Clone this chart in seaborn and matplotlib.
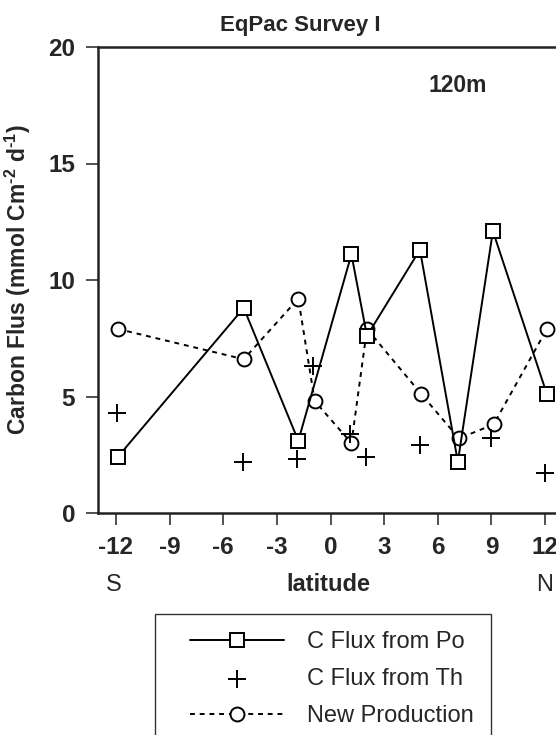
import numpy as np
import pandas as pd
import matplotlib
matplotlib.use("Agg")
import matplotlib.pyplot as plt
import seaborn as sns
from matplotlib.patches import Rectangle
from matplotlib.transforms import blended_transform_factory

# Du lieu doc tu hinh (vi do, thong luong carbon)
lat_po = [-11.9, -4.85, -1.8, 1.17, 2.04, 5.0, 7.12, 9.08, 12.1]
flux_po = [2.4, 8.8, 3.1, 11.1, 7.6, 11.3, 2.2, 12.1, 5.1]

lat_th = [-11.93, -4.92, -1.9, -0.98, 1.07, 2.0, 4.98, 8.99, 12.02]
flux_th = [4.3, 2.2, 2.3, 6.3, 3.4, 2.4, 2.9, 3.2, 1.7]

lat_np = [-11.9, -4.85, -1.8, -0.88, 1.17, 2.04, 5.08, 7.18, 9.12, 12.1]
flux_np = [7.9, 6.6, 9.2, 4.8, 3.0, 7.9, 5.1, 3.2, 3.8, 7.9]

xticks = [-12, -9, -6, -3, 0, 3, 6, 9, 12]
yticks = [0, 5, 10, 15, 20]
labels = ["C Flux from Po", "C Flux from Th", "New Production"]

df_po = pd.DataFrame({"lat": lat_po, "flux": flux_po})
df_th = pd.DataFrame({"lat": lat_th, "flux": flux_th})
df_np = pd.DataFrame({"lat": lat_np, "flux": flux_np})

sns.set_style("ticks")
plt.rcParams["font.family"] = ["Liberation Sans", "DejaVu Sans"]
plt.rcParams["mathtext.fontset"] = "custom"
plt.rcParams["mathtext.rm"] = "Liberation Sans:bold"
plt.rcParams["mathtext.bf"] = "Liberation Sans:bold"

fig = plt.figure(figsize=(5.56, 7.35), dpi=100)
ax = fig.add_axes([98 / 556, 222 / 735, 465 / 556, 466 / 735])

sns.lineplot(data=df_np, x="lat", y="flux", ax=ax, color="black", lw=1.4,
             linestyle=(0, (2.5, 2.5)), marker="o", markersize=10,
             markerfacecolor="white", markeredgecolor="black", markeredgewidth=1.4,
             label=labels[2], zorder=2)
sns.scatterplot(data=df_th, x="lat", y="flux", ax=ax, marker="+", s=150,
                color="black", linewidth=1.4, label=labels[1], zorder=3)
sns.lineplot(data=df_po, x="lat", y="flux", ax=ax, color="black", lw=1.4,
             marker="s", markersize=10, markerfacecolor="white",
             markeredgecolor="black", markeredgewidth=1.4,
             label=labels[0], zorder=4)

ax.set_xlim(-13, 13)
ax.set_ylim(0, 20)
ax.set_xticks(xticks)
ax.set_yticks(yticks)
ax.set_xticklabels([str(t) for t in xticks], fontweight="bold", fontsize=17.5)
ax.set_yticklabels([str(t) for t in yticks], fontweight="bold", fontsize=17.5)
ax.tick_params(axis="both", direction="out", length=8.5, width=1.1, pad=8, color="#222222")
for s in ["left", "bottom", "top"]:
    ax.spines[s].set_linewidth(1.8)
    ax.spines[s].set_color("#222222")
ax.spines["right"].set_visible(False)

ax.set_ylabel("Carbon Flus (mmol Cm$^{\\text{-2}}$ d$^{\\text{-1}}$)",
              fontweight="bold", fontsize=16.5)
ax.yaxis.set_label_coords(-0.14, 0.5)
ax.set_xlabel("latitude", fontweight="bold", fontsize=17)
ax.xaxis.set_label_coords(0.495, -0.128)

trans = blended_transform_factory(ax.transData, ax.transAxes)
ax.text(-12.1, -0.154, "S", transform=trans, ha="center", va="center", fontsize=17)
ax.text(11.95, -0.154, "N", transform=trans, ha="center", va="center", fontsize=17)

fig.text(300 / 556, 1 - 25 / 735, "EqPac Survey I", ha="center", va="center",
         fontweight="bold", fontsize=16)
fig.text(458 / 556, 1 - 85 / 735, "120m", ha="center", va="center",
         fontweight="bold", fontsize=16.5)

# Chu giai
handles, labs = ax.get_legend_handles_labels()
order = [labs.index(l) for l in labels]
ax.get_legend().remove()
fig.legend([handles[i] for i in order], [labs[i] for i in order],
           loc="upper left", bbox_to_anchor=(178 / 556, 1 - 619 / 735),
           frameon=False, borderpad=0, fontsize=17, handlelength=4.0,
           handletextpad=0.95, labelspacing=0.65, scatterpoints=1)
fig.patches.append(Rectangle((155 / 556, -0.05), (491 - 155) / 556, 0.05 + 121 / 735,
                             transform=fig.transFigure, fill=False,
                             edgecolor="#333333", linewidth=1.0))

fig.savefig("out.png", dpi=100)
